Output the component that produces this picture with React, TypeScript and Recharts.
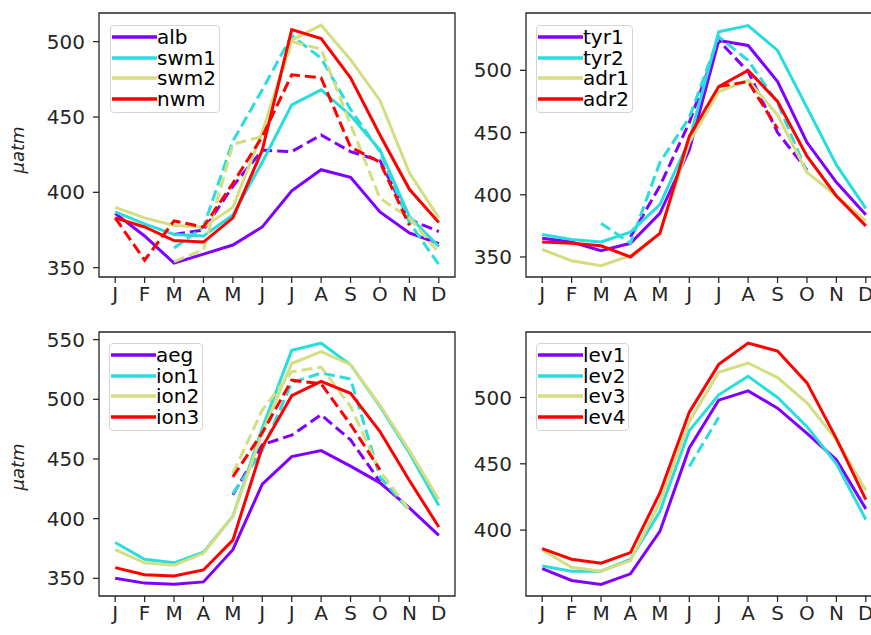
import React from "react";
import { LineChart, Line, XAxis, YAxis, ReferenceArea } from "recharts";

const months = ["J", "F", "M", "A", "M", "J", "J", "A", "S", "O", "N", "D"];
const colors = ["#8000ff", "#2adddd", "#d4dd80", "#ff0000"];

// top left
const names1 = ["alb", "swm1", "swm2", "nwm"];
const alb = [386, 371, 353, 359, 365, 377, 401, 415, 410, 387, 373, 366];
const albD = [null, null, 372, 375, 404, 428, 427, 438, 427, 421, 382, 374];
const swm1 = [387, 379, 372, 371, 385, 420, 458, 468, 451, 428, 384, 364];
const swm1D = [null, null, 363, 377, 434, 468, 504, 489, 455, 427, 380, 352];
const swm2 = [390, 383, 378, 377, 390, 440, 501, 511, 488, 461, 413, 383];
const swm2D = [null, null, 354, 362, 432, 437, 500, 495, 445, 396, 383, 360];
const nwm = [383, 377, 368, 367, 383, 428, 508, 502, 476, 438, 402, 380];
const nwmD = [383, 355, 381, 377, 406, 437, 478, 476, 430, 420, 378, null];

// top right
const names2 = ["tyr1", "tyr2", "adr1", "adr2"];
const tyr1 = [365, 362, 355, 361, 385, 436, 524, 520, 491, 442, 410, 384];
const tyr1D = [null, null, null, 366, 407, 458, 524, 499, 450, 420, null, null];
const tyr2 = [368, 364, 362, 370, 392, 444, 531, 536, 516, 470, 424, 389];
const tyr2D = [null, null, 377, 361, 426, 462, 527, 508, 474, 418, null, null];
const adr1 = [356, 347, 343, 351, 369, 442, 483, 492, 464, 418, 399, 379];
const adr1D = [null, null, null, null, null, null, null, null, null, null, null, null];
const adr2 = [362, 361, 359, 350, 369, 447, 487, 500, 475, 431, 399, 375];
const adr2D = [null, null, null, null, null, null, 487, 491, 453, null, null, null];

// bottom left
const names3 = ["aeg", "ion1", "ion2", "ion3"];
const aeg = [350, 346, 345, 347, 374, 429, 452, 457, 444, 430, 409, 386];
const aegD = [null, null, null, null, 420, 462, 470, 487, 466, 431, null, null];
const ion1 = [380, 366, 363, 372, 402, 476, 541, 547, 529, 494, 455, 411];
const ion1D = [null, null, null, null, 421, 457, 514, 522, 517, 435, 407, null];
const ion2 = [374, 363, 361, 371, 402, 472, 530, 540, 529, 495, 457, 416];
const ion2D = [null, null, null, null, 438, 491, 523, 527, 494, 440, 407, null];
const ion3 = [359, 353, 352, 357, 382, 460, 503, 515, 505, 473, 432, 393];
const ion3D = [null, null, null, null, 435, 472, 516, 513, 479, 441, null, null];

// bottom right
const names4 = ["lev1", "lev2", "lev3", "lev4"];
const lev1 = [371, 362, 359, 367, 399, 462, 498, 505, 492, 473, 453, 416];
const lev1D = [null, null, null, null, null, null, null, null, null, null, null, null];
const lev2 = [373, 369, 369, 378, 414, 475, 502, 516, 500, 478, 450, 408];
const lev2D = [null, null, null, null, null, 448, 485, null, null, null, null, null];
const lev3 = [385, 372, 369, 377, 421, 482, 519, 526, 515, 496, 468, 430];
const lev3D = [null, null, null, null, null, null, null, null, null, null, null, null];
const lev4 = [386, 378, 375, 383, 428, 489, 525, 541, 535, 511, 469, 423];
const lev4D = [null, null, null, null, null, null, null, null, null, null, null, null];

const FONT = "'DejaVu Sans', sans-serif";
const INK = "#262626";
const YW = 90;
const MT = 6;
const MR = 4;
const XH = 40;
const PW = 356;
const PH = 264;
const LW = 3;

type PanelProps = {
  left: number;
  top: number;
  names: string[];
  solid: number[][];
  dashed: (number | null)[][];
  domain: [number, number];
  yticks: number[];
};

const Panel = ({ left, top, names, solid, dashed, domain, yticks }: PanelProps) => {
  const rows = months.map((m, i) => {
    const r: any = { i };
    names.forEach((n, k) => {
      r[n] = solid[k][i];
      r[n + "_d"] = dashed[k][i];
    });
    return r;
  });
  return (
    <div style={{ position: "absolute", left: left - YW, top: top - MT }}>
      <LineChart
        width={YW + PW + MR}
        height={MT + PH + XH}
        data={rows}
        margin={{ top: MT, right: MR, bottom: 0, left: 0 }}
      >
        <XAxis
          type="number"
          dataKey="i"
          domain={[-0.55, 11.55]}
          allowDataOverflow
          ticks={[0, 1, 2, 3, 4, 5, 6, 7, 8, 9, 10, 11]}
          interval={0}
          tickFormatter={(v: number) => months[v]}
          height={XH}
          axisLine={false}
          tickSize={6}
          tickMargin={4}
          tickLine={{ stroke: INK, strokeWidth: 1.25 }}
          tick={{ fill: INK, fontSize: 20, fontFamily: FONT }}
        />
        <YAxis
          type="number"
          domain={domain}
          allowDataOverflow
          ticks={yticks}
          interval={0}
          width={YW}
          axisLine={false}
          tickSize={6}
          tickMargin={8}
          tickLine={{ stroke: INK, strokeWidth: 1.25 }}
          tick={{ fill: INK, fontSize: 20, fontFamily: FONT }}
        />
        {names.flatMap((n, k) => [
          <Line
            key={n}
            dataKey={n}
            type="linear"
            stroke={colors[k]}
            strokeWidth={LW}
            dot={false}
            activeDot={false}
            isAnimationActive={false}
          />,
          <Line
            key={n + "_d"}
            dataKey={n + "_d"}
            type="linear"
            stroke={colors[k]}
            strokeWidth={LW}
            strokeDasharray="11 5"
            dot={false}
            activeDot={false}
            isAnimationActive={false}
          />,
        ])}
        <ReferenceArea
          x1={-0.55}
          x2={11.55}
          y1={domain[0]}
          y2={domain[1]}
          fill="none"
          stroke={INK}
          strokeWidth={1.3}
          ifOverflow="visible"
        />
      </LineChart>
    </div>
  );
};

const Legend = ({ left, top, names }: { left: number; top: number; names: string[] }) => (
  <div
    style={{
      position: "absolute",
      left,
      top,
      border: "1px solid #d4d4d4",
      borderRadius: 4,
      background: "rgba(255,255,255,0.8)",
      padding: "1px 3px 3px 1px",
      fontFamily: FONT,
      fontSize: 20,
      color: "#000",
    }}
  >
    {names.map((n, k) => (
      <div key={n} style={{ display: "flex", alignItems: "center", height: 20.6, lineHeight: "20.6px" }}>
        <svg width={45} height={8} style={{ display: "block" }}>
          <line x1={0} y1={4} x2={45} y2={4} stroke={colors[k]} strokeWidth={3.5} />
        </svg>
        <span>{n}</span>
      </div>
    ))}
  </div>
);

const YLabel = ({ cy }: { cy: number }) => (
  <div
    style={{
      position: "absolute",
      left: 18 - 40,
      top: cy - 10,
      width: 80,
      height: 20,
      lineHeight: "20px",
      textAlign: "center",
      fontFamily: FONT,
      fontStyle: "italic",
      fontSize: 18,
      color: INK,
      transform: "rotate(-90deg)",
    }}
  >
    μatm
  </div>
);

export default function App() {
  return (
    <div
      style={{
        position: "absolute",
        left: 0,
        top: 0,
        width: 871,
        height: 635,
        overflow: "hidden",
        background: "#fff",
      }}
    >
      <Panel
        left={98.8}
        top={13.3}
        names={names1}
        solid={[alb, swm1, swm2, nwm]}
        dashed={[albD, swm1D, swm2D, nwmD]}
        domain={[343.8, 519.0]}
        yticks={[350, 400, 450, 500]}
      />
      <Panel
        left={525.5}
        top={13.3}
        names={names2}
        solid={[tyr1, tyr2, adr1, adr2]}
        dashed={[tyr1D, tyr2D, adr1D, adr2D]}
        domain={[333.9, 546.1]}
        yticks={[350, 400, 450, 500]}
      />
      <Panel
        left={98.8}
        top={331.7}
        names={names3}
        solid={[aeg, ion1, ion2, ion3]}
        dashed={[aegD, ion1D, ion2D, ion3D]}
        domain={[335.2, 556.4]}
        yticks={[350, 400, 450, 500, 550]}
      />
      <Panel
        left={525.5}
        top={331.7}
        names={names4}
        solid={[lev1, lev2, lev3, lev4]}
        dashed={[lev1D, lev2D, lev3D, lev4D]}
        domain={[350.3, 549.4]}
        yticks={[400, 450, 500]}
      />
      <Legend left={110} top={25} names={names1} />
      <Legend left={536} top={25} names={names2} />
      <Legend left={109} top={343} names={names3} />
      <Legend left={536} top={343} names={names4} />
      <YLabel cy={150} />
      <YLabel cy={467} />
    </div>
  );
}
